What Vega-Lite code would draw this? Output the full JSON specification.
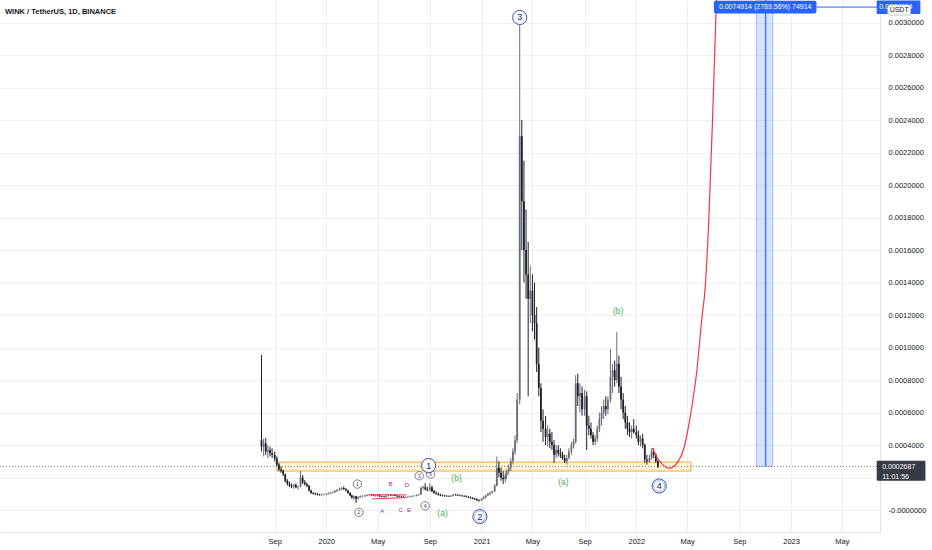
{
"$schema":"https://vega.github.io/schema/vega-lite/v6.json",
"width":880,"height":532,
"autosize":{"type":"none"},
"padding":{"left":0,"top":0,"right":52,"bottom":18},
"background":"#ffffff",
"config":{"view":{"stroke":null},"font":"Liberation Sans"},
"title":{"text":"WINK / TetherUS, 1D, BINANCE","anchor":"start","frame":"group","orient":"top","offset":-15,"dx":5,"fontSize":7.5,"fontWeight":"bold","color":"#131722","font":"Liberation Sans"},
"datasets":{
"candles":[
{"t":"2019-08-01","o":430e-6,"h":954e-6,"l":360e-6,"c":390e-6},
{"t":"2019-08-06","o":390e-6,"h":440e-6,"l":330e-6,"c":410e-6},
{"t":"2019-08-11","o":410e-6,"h":445e-6,"l":340e-6,"c":360e-6},
{"t":"2019-08-16","o":360e-6,"h":400e-6,"l":320e-6,"c":370e-6},
{"t":"2019-08-21","o":370e-6,"h":390e-6,"l":330e-6,"c":350e-6},
{"t":"2019-08-26","o":350e-6,"h":380e-6,"l":320e-6,"c":340e-6},
{"t":"2019-09-01","o":340e-6,"h":360e-6,"l":300e-6,"c":320e-6},
{"t":"2019-09-06","o":320e-6,"h":330e-6,"l":270e-6,"c":280e-6},
{"t":"2019-09-11","o":280e-6,"h":290e-6,"l":240e-6,"c":250e-6},
{"t":"2019-09-16","o":250e-6,"h":270e-6,"l":230e-6,"c":240e-6},
{"t":"2019-09-21","o":240e-6,"h":250e-6,"l":210e-6,"c":220e-6},
{"t":"2019-09-26","o":220e-6,"h":225e-6,"l":170e-6,"c":180e-6},
{"t":"2019-10-01","o":180e-6,"h":190e-6,"l":150e-6,"c":160e-6},
{"t":"2019-10-06","o":160e-6,"h":175e-6,"l":140e-6,"c":150e-6},
{"t":"2019-10-11","o":150e-6,"h":165e-6,"l":135e-6,"c":145e-6},
{"t":"2019-10-16","o":145e-6,"h":160e-6,"l":130e-6,"c":155e-6},
{"t":"2019-10-21","o":155e-6,"h":165e-6,"l":135e-6,"c":140e-6},
{"t":"2019-10-26","o":140e-6,"h":150e-6,"l":125e-6,"c":145e-6},
{"t":"2019-11-01","o":145e-6,"h":240e-6,"l":140e-6,"c":200e-6},
{"t":"2019-11-06","o":200e-6,"h":215e-6,"l":160e-6,"c":170e-6},
{"t":"2019-11-11","o":170e-6,"h":185e-6,"l":150e-6,"c":160e-6},
{"t":"2019-11-16","o":160e-6,"h":170e-6,"l":140e-6,"c":150e-6},
{"t":"2019-11-21","o":150e-6,"h":155e-6,"l":115e-6,"c":120e-6},
{"t":"2019-11-26","o":120e-6,"h":125e-6,"l":100e-6,"c":105e-6},
{"t":"2019-12-01","o":105e-6,"h":110e-6,"l":95e-6,"c":100e-6},
{"t":"2019-12-06","o":100e-6,"h":108e-6,"l":92e-6,"c":98e-6},
{"t":"2019-12-11","o":98e-6,"h":105e-6,"l":90e-6,"c":95e-6},
{"t":"2019-12-16","o":95e-6,"h":100e-6,"l":88e-6,"c":92e-6},
{"t":"2019-12-21","o":92e-6,"h":100e-6,"l":88e-6,"c":95e-6},
{"t":"2019-12-26","o":95e-6,"h":102e-6,"l":90e-6,"c":96e-6},
{"t":"2020-01-01","o":96e-6,"h":104e-6,"l":92e-6,"c":100e-6},
{"t":"2020-01-06","o":100e-6,"h":108e-6,"l":95e-6,"c":104e-6},
{"t":"2020-01-11","o":104e-6,"h":112e-6,"l":98e-6,"c":108e-6},
{"t":"2020-01-16","o":108e-6,"h":115e-6,"l":102e-6,"c":110e-6},
{"t":"2020-01-21","o":110e-6,"h":122e-6,"l":105e-6,"c":118e-6},
{"t":"2020-01-26","o":118e-6,"h":128e-6,"l":112e-6,"c":124e-6},
{"t":"2020-02-01","o":124e-6,"h":138e-6,"l":118e-6,"c":130e-6},
{"t":"2020-02-06","o":130e-6,"h":142e-6,"l":122e-6,"c":136e-6},
{"t":"2020-02-11","o":136e-6,"h":145e-6,"l":125e-6,"c":128e-6},
{"t":"2020-02-16","o":128e-6,"h":135e-6,"l":115e-6,"c":120e-6},
{"t":"2020-02-21","o":120e-6,"h":125e-6,"l":100e-6,"c":105e-6},
{"t":"2020-02-26","o":105e-6,"h":110e-6,"l":85e-6,"c":90e-6},
{"t":"2020-03-01","o":90e-6,"h":95e-6,"l":70e-6,"c":75e-6},
{"t":"2020-03-06","o":75e-6,"h":90e-6,"l":60e-6,"c":85e-6},
{"t":"2020-03-11","o":85e-6,"h":88e-6,"l":43e-6,"c":70e-6},
{"t":"2020-03-16","o":70e-6,"h":85e-6,"l":65e-6,"c":80e-6},
{"t":"2020-03-21","o":80e-6,"h":90e-6,"l":75e-6,"c":85e-6},
{"t":"2020-03-26","o":85e-6,"h":92e-6,"l":78e-6,"c":86e-6},
{"t":"2020-04-01","o":86e-6,"h":95e-6,"l":80e-6,"c":90e-6},
{"t":"2020-04-06","o":90e-6,"h":98e-6,"l":84e-6,"c":92e-6},
{"t":"2020-04-11","o":92e-6,"h":100e-6,"l":86e-6,"c":95e-6},
{"t":"2020-04-16","o":95e-6,"h":100e-6,"l":88e-6,"c":92e-6},
{"t":"2020-04-21","o":92e-6,"h":98e-6,"l":85e-6,"c":88e-6},
{"t":"2020-04-26","o":88e-6,"h":95e-6,"l":82e-6,"c":90e-6},
{"t":"2020-05-01","o":90e-6,"h":96e-6,"l":84e-6,"c":88e-6},
{"t":"2020-05-06","o":88e-6,"h":94e-6,"l":80e-6,"c":84e-6},
{"t":"2020-05-11","o":84e-6,"h":90e-6,"l":78e-6,"c":82e-6},
{"t":"2020-05-16","o":82e-6,"h":88e-6,"l":76e-6,"c":80e-6},
{"t":"2020-05-21","o":80e-6,"h":90e-6,"l":78e-6,"c":88e-6},
{"t":"2020-05-26","o":88e-6,"h":95e-6,"l":84e-6,"c":92e-6},
{"t":"2020-06-01","o":92e-6,"h":98e-6,"l":86e-6,"c":90e-6},
{"t":"2020-06-06","o":90e-6,"h":96e-6,"l":85e-6,"c":92e-6},
{"t":"2020-06-11","o":92e-6,"h":98e-6,"l":86e-6,"c":88e-6},
{"t":"2020-06-16","o":88e-6,"h":92e-6,"l":80e-6,"c":84e-6},
{"t":"2020-06-21","o":84e-6,"h":90e-6,"l":78e-6,"c":82e-6},
{"t":"2020-06-26","o":82e-6,"h":88e-6,"l":76e-6,"c":80e-6},
{"t":"2020-07-01","o":80e-6,"h":86e-6,"l":75e-6,"c":78e-6},
{"t":"2020-07-06","o":78e-6,"h":84e-6,"l":74e-6,"c":80e-6},
{"t":"2020-07-11","o":80e-6,"h":86e-6,"l":76e-6,"c":82e-6},
{"t":"2020-07-16","o":82e-6,"h":88e-6,"l":78e-6,"c":84e-6},
{"t":"2020-07-21","o":84e-6,"h":90e-6,"l":80e-6,"c":86e-6},
{"t":"2020-07-26","o":86e-6,"h":92e-6,"l":82e-6,"c":88e-6},
{"t":"2020-08-01","o":88e-6,"h":96e-6,"l":84e-6,"c":92e-6},
{"t":"2020-08-06","o":92e-6,"h":100e-6,"l":88e-6,"c":96e-6},
{"t":"2020-08-11","o":96e-6,"h":145e-6,"l":94e-6,"c":135e-6},
{"t":"2020-08-16","o":135e-6,"h":150e-6,"l":125e-6,"c":140e-6},
{"t":"2020-08-21","o":140e-6,"h":165e-6,"l":120e-6,"c":130e-6},
{"t":"2020-08-26","o":130e-6,"h":145e-6,"l":115e-6,"c":125e-6},
{"t":"2020-09-01","o":125e-6,"h":165e-6,"l":115e-6,"c":140e-6},
{"t":"2020-09-06","o":140e-6,"h":150e-6,"l":110e-6,"c":115e-6},
{"t":"2020-09-11","o":115e-6,"h":125e-6,"l":100e-6,"c":105e-6},
{"t":"2020-09-16","o":105e-6,"h":115e-6,"l":95e-6,"c":100e-6},
{"t":"2020-09-21","o":100e-6,"h":108e-6,"l":88e-6,"c":95e-6},
{"t":"2020-09-26","o":95e-6,"h":100e-6,"l":85e-6,"c":90e-6},
{"t":"2020-10-01","o":90e-6,"h":96e-6,"l":84e-6,"c":88e-6},
{"t":"2020-10-06","o":88e-6,"h":94e-6,"l":82e-6,"c":86e-6},
{"t":"2020-10-11","o":86e-6,"h":92e-6,"l":80e-6,"c":85e-6},
{"t":"2020-10-16","o":85e-6,"h":90e-6,"l":80e-6,"c":84e-6},
{"t":"2020-10-21","o":84e-6,"h":92e-6,"l":80e-6,"c":88e-6},
{"t":"2020-10-26","o":88e-6,"h":98e-6,"l":85e-6,"c":95e-6},
{"t":"2020-11-01","o":95e-6,"h":100e-6,"l":88e-6,"c":92e-6},
{"t":"2020-11-06","o":92e-6,"h":98e-6,"l":86e-6,"c":90e-6},
{"t":"2020-11-11","o":90e-6,"h":96e-6,"l":84e-6,"c":88e-6},
{"t":"2020-11-16","o":88e-6,"h":94e-6,"l":82e-6,"c":86e-6},
{"t":"2020-11-21","o":86e-6,"h":92e-6,"l":80e-6,"c":84e-6},
{"t":"2020-11-26","o":84e-6,"h":90e-6,"l":78e-6,"c":80e-6},
{"t":"2020-12-01","o":80e-6,"h":86e-6,"l":74e-6,"c":78e-6},
{"t":"2020-12-06","o":78e-6,"h":84e-6,"l":70e-6,"c":74e-6},
{"t":"2020-12-11","o":74e-6,"h":80e-6,"l":66e-6,"c":70e-6},
{"t":"2020-12-16","o":70e-6,"h":76e-6,"l":62e-6,"c":66e-6},
{"t":"2020-12-21","o":66e-6,"h":72e-6,"l":55e-6,"c":60e-6},
{"t":"2020-12-26","o":60e-6,"h":66e-6,"l":52e-6,"c":58e-6},
{"t":"2021-01-01","o":58e-6,"h":72e-6,"l":55e-6,"c":70e-6},
{"t":"2021-01-06","o":70e-6,"h":85e-6,"l":66e-6,"c":80e-6},
{"t":"2021-01-11","o":80e-6,"h":95e-6,"l":72e-6,"c":90e-6},
{"t":"2021-01-16","o":90e-6,"h":105e-6,"l":85e-6,"c":100e-6},
{"t":"2021-01-21","o":100e-6,"h":112e-6,"l":90e-6,"c":108e-6},
{"t":"2021-01-26","o":108e-6,"h":120e-6,"l":100e-6,"c":115e-6},
{"t":"2021-02-01","o":115e-6,"h":160e-6,"l":110e-6,"c":150e-6},
{"t":"2021-02-06","o":150e-6,"h":330e-6,"l":145e-6,"c":260e-6},
{"t":"2021-02-11","o":260e-6,"h":300e-6,"l":200e-6,"c":230e-6},
{"t":"2021-02-16","o":230e-6,"h":260e-6,"l":180e-6,"c":200e-6},
{"t":"2021-02-21","o":200e-6,"h":240e-6,"l":160e-6,"c":190e-6},
{"t":"2021-02-26","o":190e-6,"h":230e-6,"l":170e-6,"c":210e-6},
{"t":"2021-03-01","o":210e-6,"h":250e-6,"l":190e-6,"c":240e-6},
{"t":"2021-03-06","o":240e-6,"h":280e-6,"l":220e-6,"c":260e-6},
{"t":"2021-03-11","o":260e-6,"h":320e-6,"l":240e-6,"c":300e-6},
{"t":"2021-03-16","o":300e-6,"h":380e-6,"l":280e-6,"c":360e-6},
{"t":"2021-03-21","o":360e-6,"h":460e-6,"l":340e-6,"c":430e-6},
{"t":"2021-03-26","o":430e-6,"h":720e-6,"l":410e-6,"c":680e-6},
{"t":"2021-04-01","o":680e-6,"h":2985e-6,"l":650e-6,"c":2300e-6},
{"t":"2021-04-06","o":2300e-6,"h":2400e-6,"l":1600e-6,"c":1900e-6},
{"t":"2021-04-11","o":1900e-6,"h":2150e-6,"l":1400e-6,"c":1600e-6},
{"t":"2021-04-16","o":1600e-6,"h":1850e-6,"l":1300e-6,"c":1450e-6},
{"t":"2021-04-21","o":1450e-6,"h":1650e-6,"l":700e-6,"c":1300e-6},
{"t":"2021-04-26","o":1300e-6,"h":1500e-6,"l":1150e-6,"c":1350e-6},
{"t":"2021-05-01","o":1350e-6,"h":1450e-6,"l":1100e-6,"c":1200e-6},
{"t":"2021-05-06","o":1200e-6,"h":1400e-6,"l":1050e-6,"c":1150e-6},
{"t":"2021-05-11","o":1150e-6,"h":1250e-6,"l":850e-6,"c":900e-6},
{"t":"2021-05-16","o":900e-6,"h":1000e-6,"l":700e-6,"c":750e-6},
{"t":"2021-05-21","o":750e-6,"h":780e-6,"l":480e-6,"c":550e-6},
{"t":"2021-05-26","o":550e-6,"h":620e-6,"l":420e-6,"c":500e-6},
{"t":"2021-06-01","o":500e-6,"h":580e-6,"l":400e-6,"c":450e-6},
{"t":"2021-06-06","o":450e-6,"h":520e-6,"l":390e-6,"c":470e-6},
{"t":"2021-06-11","o":470e-6,"h":500e-6,"l":380e-6,"c":420e-6},
{"t":"2021-06-16","o":420e-6,"h":480e-6,"l":370e-6,"c":400e-6},
{"t":"2021-06-21","o":400e-6,"h":430e-6,"l":290e-6,"c":340e-6},
{"t":"2021-06-26","o":340e-6,"h":400e-6,"l":320e-6,"c":370e-6},
{"t":"2021-07-01","o":370e-6,"h":400e-6,"l":330e-6,"c":350e-6},
{"t":"2021-07-06","o":350e-6,"h":380e-6,"l":320e-6,"c":340e-6},
{"t":"2021-07-11","o":340e-6,"h":360e-6,"l":310e-6,"c":320e-6},
{"t":"2021-07-16","o":320e-6,"h":340e-6,"l":290e-6,"c":300e-6},
{"t":"2021-07-21","o":300e-6,"h":340e-6,"l":280e-6,"c":320e-6},
{"t":"2021-07-26","o":320e-6,"h":380e-6,"l":310e-6,"c":360e-6},
{"t":"2021-08-01","o":360e-6,"h":420e-6,"l":340e-6,"c":400e-6},
{"t":"2021-08-06","o":400e-6,"h":440e-6,"l":380e-6,"c":420e-6},
{"t":"2021-08-11","o":420e-6,"h":830e-6,"l":410e-6,"c":780e-6},
{"t":"2021-08-16","o":780e-6,"h":840e-6,"l":640e-6,"c":700e-6},
{"t":"2021-08-21","o":700e-6,"h":780e-6,"l":600e-6,"c":720e-6},
{"t":"2021-08-26","o":720e-6,"h":760e-6,"l":580e-6,"c":620e-6},
{"t":"2021-09-01","o":620e-6,"h":740e-6,"l":580e-6,"c":700e-6},
{"t":"2021-09-06","o":700e-6,"h":730e-6,"l":370e-6,"c":520e-6},
{"t":"2021-09-11","o":520e-6,"h":580e-6,"l":460e-6,"c":500e-6},
{"t":"2021-09-16","o":500e-6,"h":540e-6,"l":440e-6,"c":460e-6},
{"t":"2021-09-21","o":460e-6,"h":480e-6,"l":400e-6,"c":420e-6},
{"t":"2021-09-26","o":420e-6,"h":460e-6,"l":400e-6,"c":440e-6},
{"t":"2021-10-01","o":440e-6,"h":520e-6,"l":420e-6,"c":500e-6},
{"t":"2021-10-06","o":500e-6,"h":600e-6,"l":480e-6,"c":560e-6},
{"t":"2021-10-11","o":560e-6,"h":640e-6,"l":520e-6,"c":600e-6},
{"t":"2021-10-16","o":600e-6,"h":680e-6,"l":560e-6,"c":640e-6},
{"t":"2021-10-21","o":640e-6,"h":700e-6,"l":580e-6,"c":620e-6},
{"t":"2021-10-26","o":620e-6,"h":700e-6,"l":590e-6,"c":680e-6},
{"t":"2021-11-01","o":680e-6,"h":990e-6,"l":660e-6,"c":820e-6},
{"t":"2021-11-06","o":820e-6,"h":900e-6,"l":720e-6,"c":860e-6},
{"t":"2021-11-11","o":860e-6,"h":920e-6,"l":760e-6,"c":800e-6},
{"t":"2021-11-16","o":800e-6,"h":1095e-6,"l":780e-6,"c":900e-6},
{"t":"2021-11-21","o":900e-6,"h":950e-6,"l":720e-6,"c":760e-6},
{"t":"2021-11-26","o":760e-6,"h":820e-6,"l":620e-6,"c":680e-6},
{"t":"2021-12-01","o":680e-6,"h":720e-6,"l":560e-6,"c":600e-6},
{"t":"2021-12-06","o":600e-6,"h":640e-6,"l":500e-6,"c":540e-6},
{"t":"2021-12-11","o":540e-6,"h":580e-6,"l":460e-6,"c":500e-6},
{"t":"2021-12-16","o":500e-6,"h":540e-6,"l":450e-6,"c":480e-6},
{"t":"2021-12-21","o":480e-6,"h":520e-6,"l":440e-6,"c":500e-6},
{"t":"2021-12-26","o":500e-6,"h":560e-6,"l":470e-6,"c":480e-6},
{"t":"2022-01-01","o":480e-6,"h":520e-6,"l":440e-6,"c":460e-6},
{"t":"2022-01-06","o":460e-6,"h":490e-6,"l":400e-6,"c":420e-6},
{"t":"2022-01-11","o":420e-6,"h":460e-6,"l":390e-6,"c":440e-6},
{"t":"2022-01-16","o":440e-6,"h":470e-6,"l":380e-6,"c":400e-6},
{"t":"2022-01-21","o":400e-6,"h":410e-6,"l":290e-6,"c":310e-6},
{"t":"2022-01-26","o":310e-6,"h":340e-6,"l":280e-6,"c":300e-6},
{"t":"2022-02-01","o":300e-6,"h":340e-6,"l":290e-6,"c":320e-6},
{"t":"2022-02-06","o":320e-6,"h":380e-6,"l":310e-6,"c":360e-6},
{"t":"2022-02-11","o":360e-6,"h":380e-6,"l":320e-6,"c":340e-6},
{"t":"2022-02-16","o":340e-6,"h":350e-6,"l":290e-6,"c":300e-6},
{"t":"2022-02-21","o":300e-6,"h":310e-6,"l":258e-6,"c":268.7e-6}
],
"zone":[{"t1":"2019-09-06","t2":"2022-05-10","p1":295e-6,"p2":240e-6}],
"last":[{"p":268.7e-6}],
"target":[{"t1":"2022-10-11","t2":"2022-11-19","tm":"2022-11-02","entry":268.7e-6,"target":7491.4e-6}],
"projection":[
{"t":"2022-02-08","p":381e-6},
{"t":"2022-02-20","p":320e-6},
{"t":"2022-03-03","p":283e-6},
{"t":"2022-03-20","p":258e-6},
{"t":"2022-04-07","p":289e-6},
{"t":"2022-04-24","p":388e-6},
{"t":"2022-05-08","p":572e-6},
{"t":"2022-05-24","p":862e-6},
{"t":"2022-06-05","p":1188e-6},
{"t":"2022-06-12","p":1354e-6},
{"t":"2022-06-21","p":1785e-6},
{"t":"2022-06-30","p":2418e-6},
{"t":"2022-07-07","p":2972e-6},
{"t":"2022-07-11","p":3323e-6}
],
"triangle":[
{"seg":"upper","t":"2020-04-14","p":95e-6},
{"seg":"upper","t":"2020-07-08","p":93e-6},
{"seg":"lower","t":"2020-04-18","p":68e-6},
{"seg":"lower","t":"2020-07-06","p":77e-6}
],
"waves":[
{"label":"1","kind":"minor","t":"2020-03-14","p":160e-6},
{"label":"2","kind":"minor","t":"2020-03-18","p":-14e-6},
{"label":"3","kind":"minor","t":"2020-08-07","p":211e-6},
{"label":"4","kind":"minor","t":"2020-08-21","p":26e-6},
{"label":"5","kind":"minor","t":"2020-09-03","p":222e-6},
{"label":"1","kind":"major","t":"2020-08-29","p":274e-6},
{"label":"2","kind":"double","t":"2020-12-28","p":-40e-6},
{"label":"3","kind":"major","t":"2021-04-01","p":3031e-6},
{"label":"4","kind":"double","t":"2022-02-24","p":148e-6},
{"label":"(a)","kind":"corr","t":"2020-10-01","p":-20e-6},
{"label":"(b)","kind":"corr","t":"2020-11-03","p":199e-6},
{"label":"(a)","kind":"corr","t":"2021-07-13","p":172e-6},
{"label":"(b)","kind":"corr","t":"2021-11-19","p":1225e-6},
{"label":"A","kind":"tri","t":"2020-05-12","p":-4e-6},
{"label":"B","kind":"tri","t":"2020-05-31","p":162e-6},
{"label":"C","kind":"tri","t":"2020-06-24","p":-2e-6},
{"label":"D","kind":"tri","t":"2020-07-09","p":152e-6},
{"label":"E","kind":"tri","t":"2020-07-14","p":-2e-6}
],
"toplabel":[{"t1":"2022-07-03","t2":"2023-03-02","tm":"2022-11-01","p1":3134e-6,"p2":3055e-6,"pm":3095e-6,"text":"0.0074914 (2789.56%) 74914","lt":"2023-07-23"}],
"axisboxes":[
{"kind":"target","t1":"2023-07-22","t2":"2023-11-02","p1":3136e-6,"p2":3052e-6},
{"kind":"price","t1":"2023-07-22","t2":"2023-11-14","p1":303e-6,"p2":180e-6}
],
"axistexts":[
{"kind":"target","t":"2023-07-28","p":3093e-6,"text":"0.0074914"},
{"kind":"price","t":"2023-08-04","p":263e-6,"text":"0.0002687"},
{"kind":"price","t":"2023-08-04","p":205e-6,"text":"11:01:56"}
],
"usdt":[{"t1":"2023-08-17","t2":"2023-10-10","p1":3108e-6,"p2":3046e-6,"tm":"2023-09-13","pm":3077e-6,"text":"USDT"}]
},
"encoding":{
 "x":{"type":"temporal","scale":{"type":"utc","domain":[1512345600000,1689638400000]},
  "axis":{"values":[{"year":2019,"month":9,"date":1,"utc":true},{"year":2020,"month":1,"date":1,"utc":true},{"year":2020,"month":5,"date":1,"utc":true},{"year":2020,"month":9,"date":1,"utc":true},{"year":2021,"month":1,"date":1,"utc":true},{"year":2021,"month":5,"date":1,"utc":true},{"year":2021,"month":9,"date":1,"utc":true},{"year":2022,"month":1,"date":1,"utc":true},{"year":2022,"month":5,"date":1,"utc":true},{"year":2022,"month":9,"date":1,"utc":true},{"year":2023,"month":1,"date":1,"utc":true},{"year":2023,"month":5,"date":1,"utc":true}],
   "labelExpr":"utcmonth(datum.value) == 0 ? utcFormat(datum.value, '%Y') : utcFormat(datum.value, '%b')",
   "title":null,"grid":true,"gridColor":"#eceff5","gridWidth":1,"domain":true,"domainColor":"#e0e3eb","ticks":false,"labelPadding":5,
   "labelFont":"Liberation Sans","labelFontSize":7.5,"labelColor":"#131722","labelFlush":false,"labelOverlap":false}},
 "y":{"type":"quantitative","scale":{"domain":[-0.000135,0.0031385],"nice":false,"zero":false},
  "axis":{"orient":"right","values":[0,0.0002,0.0004,0.0006,0.0008,0.001,0.0012,0.0014,0.0016,0.0018,0.002,0.0022,0.0024,0.0026,0.0028,0.003],"tickCount":16,
   "labelExpr":"datum.value == 0 ? '-0.0000000' : format(datum.value, '.7f')",
   "title":null,"grid":true,"gridColor":"#eceff5","gridWidth":1,"domain":true,"domainColor":"#e0e3eb","ticks":false,"labelPadding":8,"labelAlign":"left",
   "labelFont":"Liberation Sans","labelFontSize":7.5,"labelColor":"#131722","labelOverlap":false,"labelFlush":false}}
},
"layer":[
{"data":{"name":"zone"},
 "mark":{"type":"rect","fill":"#fff1c2","fillOpacity":0.7,"stroke":"#f5a83a","strokeWidth":1},
 "encoding":{"x":{"field":"t1"},"x2":{"field":"t2"},"y":{"field":"p1"},"y2":{"field":"p2"}}},
{"data":{"name":"last"},
 "mark":{"type":"rule","color":"#787b86","strokeDash":[1,2],"strokeWidth":1},
 "encoding":{"x":null,"y":{"field":"p"}}},
{"data":{"name":"target"},
 "mark":{"type":"rect","fill":"#2962ff","fillOpacity":0.18,"stroke":"#2962ff","strokeOpacity":0.35,"strokeWidth":1,"clip":true},
 "encoding":{"x":{"field":"t1"},"x2":{"field":"t2"},"y":{"field":"entry"},"y2":{"field":"target"}}},
{"data":{"name":"target"},
 "mark":{"type":"rule","color":"#4a7bf0","strokeWidth":1.5,"clip":true},
 "encoding":{"x":{"field":"tm"},"y":{"field":"entry"},"y2":{"field":"target"}}},
{"data":{"name":"candles"},
 "mark":{"type":"rule","strokeWidth":1},
 "encoding":{"x":{"field":"t"},"y":{"field":"l"},"y2":{"field":"h"},
  "color":{"condition":{"test":"datum.c >= datum.o","value":"#6a6d78"},"value":"#1e222d"}}},
{"data":{"name":"candles"},
 "mark":{"type":"bar","size":1.8},
 "encoding":{"x":{"field":"t"},"y":{"field":"o"},"y2":{"field":"c"},
  "color":{"condition":{"test":"datum.c >= datum.o","value":"#6a6d78"},"value":"#1e222d"}}},
{"data":{"name":"projection"},
 "mark":{"type":"line","color":"#f23645","strokeWidth":1.2,"interpolate":"monotone","clip":true},
 "encoding":{"x":{"field":"t"},"y":{"field":"p"}}},
{"data":{"name":"triangle"},
 "mark":{"type":"line","color":"#f23645","strokeWidth":1},
 "encoding":{"x":{"field":"t"},"y":{"field":"p"},"detail":{"field":"seg"}}},
{"data":{"name":"waves"},
 "transform":[{"filter":"datum.kind == 'minor'"}],
 "mark":{"type":"point","shape":"circle","filled":false,"fill":"#ffffff","fillOpacity":0.9,"stroke":"#5d606b","strokeWidth":0.8,"size":70},
 "encoding":{"x":{"field":"t"},"y":{"field":"p"}}},
{"data":{"name":"waves"},
 "transform":[{"filter":"datum.kind == 'major' || datum.kind == 'double'"}],
 "mark":{"type":"point","shape":"circle","filled":false,"fill":"#ffffff","fillOpacity":0.9,"stroke":"#2c3fa0","strokeWidth":0.9,"size":200},
 "encoding":{"x":{"field":"t"},"y":{"field":"p"}}},
{"data":{"name":"waves"},
 "transform":[{"filter":"datum.kind == 'double'"}],
 "mark":{"type":"point","shape":"circle","filled":false,"size":120,"stroke":"#5a8be0","strokeWidth":0.8},
 "encoding":{"x":{"field":"t"},"y":{"field":"p"}}},
{"data":{"name":"waves"},
 "transform":[{"filter":"datum.kind == 'minor'"}],
 "mark":{"type":"text","align":"center","baseline":"middle","font":"Liberation Sans","fontSize":6,"color":"#50535e"},
 "encoding":{"x":{"field":"t"},"y":{"field":"p"},"text":{"field":"label"}}},
{"data":{"name":"waves"},
 "transform":[{"filter":"datum.kind == 'major' || datum.kind == 'double'"}],
 "mark":{"type":"text","align":"center","baseline":"middle","font":"Liberation Sans","fontSize":9.5,"color":"#1a2a8a"},
 "encoding":{"x":{"field":"t"},"y":{"field":"p"},"text":{"field":"label"}}},
{"data":{"name":"waves"},
 "transform":[{"filter":"datum.kind == 'corr'"}],
 "mark":{"type":"text","align":"center","baseline":"middle","font":"Liberation Sans","fontSize":8.5,"color":"#4caf50"},
 "encoding":{"x":{"field":"t"},"y":{"field":"p"},"text":{"field":"label"}}},
{"data":{"name":"waves"},
 "transform":[{"filter":"datum.kind == 'tri'"}],
 "mark":{"type":"text","align":"center","baseline":"middle","font":"Liberation Sans","fontSize":6,"color":"#9c27b0"},
 "encoding":{"x":{"field":"t"},"y":{"field":"p"},"text":{"field":"label"}}},
{"data":{"name":"toplabel"},
 "mark":{"type":"rect","fill":"#2962ff","cornerRadius":2,"clip":false},
 "encoding":{"x":{"field":"t1"},"x2":{"field":"t2"},"y":{"field":"p1"},"y2":{"field":"p2"}}},
{"data":{"name":"toplabel"},
 "mark":{"type":"rule","color":"#2962ff","strokeWidth":1,"clip":false},
 "encoding":{"x":{"field":"t2"},"x2":{"field":"lt"},"y":{"field":"pm"}}},
{"data":{"name":"toplabel"},
 "mark":{"type":"text","color":"#ffffff","fontSize":7,"align":"center","baseline":"middle","font":"Liberation Sans"},
 "encoding":{"x":{"field":"tm"},"y":{"field":"pm"},"text":{"field":"text"}}},
{"data":{"name":"axisboxes"},
 "transform":[{"filter":"datum.kind == 'target'"}],
 "mark":{"type":"rect","clip":false,"cornerRadius":1,"fill":"#2962ff"},
 "encoding":{"x":{"field":"t1"},"x2":{"field":"t2"},"y":{"field":"p1"},"y2":{"field":"p2"}}},
{"data":{"name":"axisboxes"},
 "transform":[{"filter":"datum.kind == 'price'"}],
 "mark":{"type":"rect","clip":false,"cornerRadius":1,"fill":"#363a45"},
 "encoding":{"x":{"field":"t1"},"x2":{"field":"t2"},"y":{"field":"p1"},"y2":{"field":"p2"}}},
{"data":{"name":"axistexts"},
 "mark":{"type":"text","color":"#ffffff","fontSize":7,"align":"left","baseline":"middle","font":"Liberation Sans","clip":false},
 "encoding":{"x":{"field":"t"},"y":{"field":"p"},"text":{"field":"text"}}},
{"data":{"name":"usdt"},
 "mark":{"type":"rect","fill":"#ffffff","stroke":"#b2b5be","strokeWidth":0.8,"cornerRadius":2,"clip":false},
 "encoding":{"x":{"field":"t1"},"x2":{"field":"t2"},"y":{"field":"p1"},"y2":{"field":"p2"}}},
{"data":{"name":"usdt"},
 "mark":{"type":"text","color":"#131722","fontSize":7,"align":"center","baseline":"middle","font":"Liberation Sans","clip":false},
 "encoding":{"x":{"field":"tm"},"y":{"field":"pm"},"text":{"field":"text"}}}
]
}
